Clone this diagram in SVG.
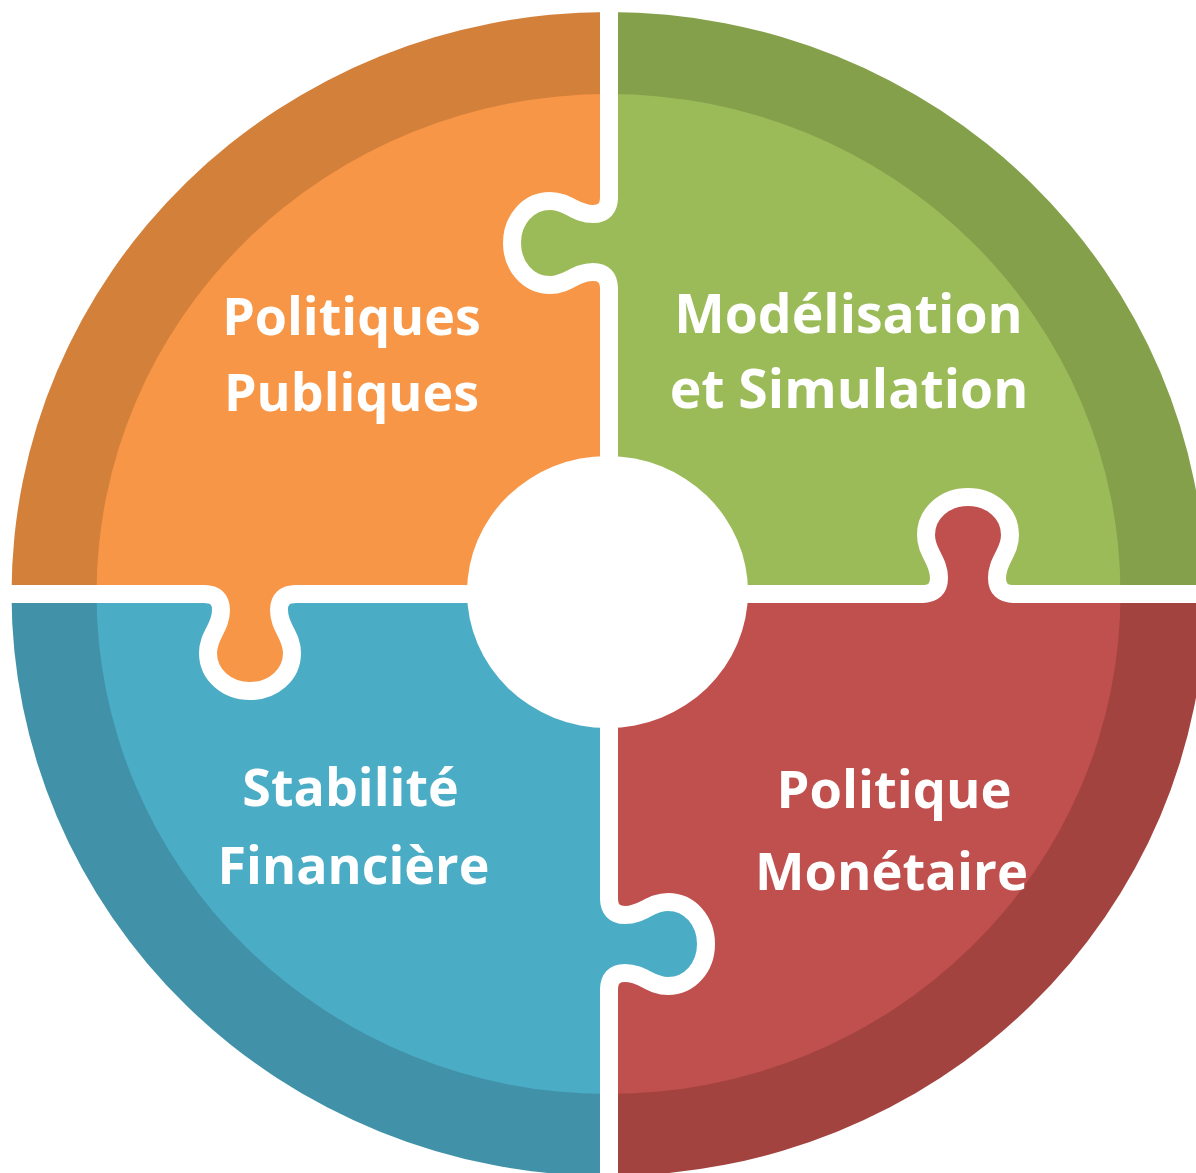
<svg xmlns="http://www.w3.org/2000/svg" xmlns:xlink="http://www.w3.org/1999/xlink" width="1196" height="1173" viewBox="0 0 1196 1173">
<defs>
<clipPath id="cTL"><rect x="0" y="0" width="609" height="594"/></clipPath>
<clipPath id="cTR"><rect x="609" y="0" width="587" height="594"/></clipPath>
<clipPath id="cBL"><rect x="0" y="594" width="609" height="579"/></clipPath>
<clipPath id="cBR"><rect x="609" y="594" width="587" height="579"/></clipPath>
<path id="tab" d="M-46,0 Q-29,0 -29,16 C-29,34 -42,41 -42,59 C-42,81 -23,97 0,97 C23,97 42,81 42,59 C42,41 29,34 29,16 Q29,0 46,0"/>
<path id="tabf" d="M-46,0 Q-29,0 -29,16 C-29,34 -42,41 -42,59 C-42,81 -23,97 0,97 C23,97 42,81 42,59 C42,41 29,34 29,16 Q29,0 46,0 Z"/>
<ellipse id="outer" cx="608.5" cy="594" rx="597" ry="582"/>
<ellipse id="inner" cx="608.5" cy="594" rx="512" ry="500"/>
</defs>
<style>
.sep{fill:none;stroke:#ffffff;stroke-width:18;stroke-linecap:round;stroke-linejoin:round}
.lbl{font-family:"Open Sans","Noto Sans",sans-serif;font-weight:700;font-size:52px;fill:#ffffff;text-anchor:middle}
</style>
<rect width="1196" height="1173" fill="#ffffff"/>
<g id="politiques-publiques">
<g clip-path="url(#cTL)"><use xlink:href="#outer" fill="#D3803B"/><use xlink:href="#inner" fill="#F79646"/></g>
<text class="lbl" x="351.5" y="335">Politiques</text>
<text class="lbl" x="351.5" y="411">Publiques</text>
</g>
<g id="modelisation-simulation">
<g clip-path="url(#cTR)"><use xlink:href="#outer" fill="#84A04B"/><use xlink:href="#inner" fill="#9BBB59"/></g>
<text class="lbl" x="848.5" y="333" style="font-size:53.5px">Modélisation</text>
<text class="lbl" x="849" y="408" style="font-size:53.5px">et Simulation</text>
</g>
<g id="stabilite-financiere">
<g clip-path="url(#cBL)"><use xlink:href="#outer" fill="#4192A8"/><use xlink:href="#inner" fill="#4BACC6"/></g>
<text class="lbl" x="350.5" y="806">Stabilité</text>
<text class="lbl" x="353.5" y="884">Financière</text>
</g>
<g id="politique-monetaire">
<g clip-path="url(#cBR)"><use xlink:href="#outer" fill="#A3433F"/><use xlink:href="#inner" fill="#C0504D"/></g>
<text class="lbl" x="894" y="808" style="font-size:52.5px">Politique</text>
<text class="lbl" x="891.5" y="890" style="font-size:52.5px">Monétaire</text>
</g>
<g id="tabs">
<use xlink:href="#tabf" fill="#9BBB59" transform="matrix(0,1,-1,0,609,243)"/>
<use xlink:href="#tabf" fill="#4BACC6" transform="matrix(0,1,1,0,609,944)"/>
<use xlink:href="#tabf" fill="#F79646" transform="translate(250,594)"/>
<use xlink:href="#tabf" fill="#C0504D" transform="matrix(1,0,0,-1,968,594)"/>
</g>
<g id="connectors">
<path class="sep" d="M609,0 V197 M609,289 V898 M609,990 V1173 M0,594 H204 M296,594 H922 M1014,594 H1196"/>
<use xlink:href="#tab" class="sep" transform="matrix(0,1,-1,0,609,243)"/>
<use xlink:href="#tab" class="sep" transform="matrix(0,1,1,0,609,944)"/>
<use xlink:href="#tab" class="sep" transform="translate(250,594)"/>
<use xlink:href="#tab" class="sep" transform="matrix(1,0,0,-1,968,594)"/>
</g>
<g id="center">
<ellipse cx="607.5" cy="592" rx="140.5" ry="136" fill="#ffffff"/>
</g>
</svg>
